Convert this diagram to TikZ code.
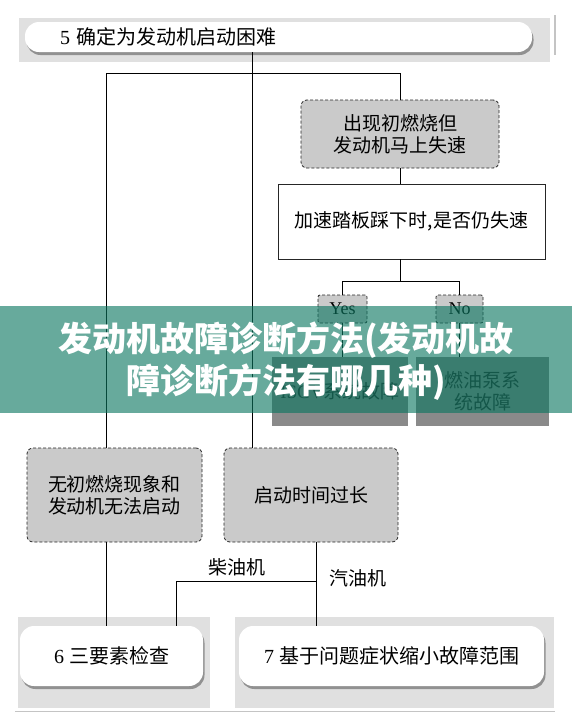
\documentclass[tikz,border=0pt]{standalone}
\usepackage{fontspec}
\setmainfont{Liberation Serif}
\newfontfamily\cjk{Noto Sans CJK SC}
\usetikzlibrary{shadows}
\definecolor{hdrbg}{HTML}{E0E0E0}
\definecolor{boxgray}{HTML}{CACACA}
\definecolor{darkbox}{HTML}{8A8A8A}
\definecolor{bannercol}{RGB}{10,118,96}
\definecolor{edgegray}{HTML}{C4C4C4}
\begin{document}
\begin{tikzpicture}[x=1pt,y=-1pt,
  every node/.style={inner sep=0pt, outer sep=0pt},
  conn/.style={draw=black, line width=0.8pt},
  hdrback/.style={fill=hdrbg, draw=none, rectangle},
  pill/.style={fill=white, rounded corners=14pt,
    drop shadow={shadow xshift=1.5pt, shadow yshift=-3pt, fill=black, opacity=0.35},
    font=\fontsize{20}{22}\selectfont},
  dbox/.style={draw=black!85, fill=boxgray, dash pattern=on 3pt off 2pt,
    line width=0.8pt, rounded corners=6pt, align=center,
    font=\fontsize{19}{22}\selectfont\cjk},
  sbox/.style={draw=black!85, fill=white, line width=0.8pt, align=center,
    font=\fontsize{19}{22}\selectfont\cjk},
  ynbox/.style={draw=black!85, fill=boxgray, dash pattern=on 3pt off 2pt,
    line width=0.8pt, rounded corners=2pt, font=\fontsize{18}{20}\selectfont},
  darkbox/.style={fill=darkbox, draw=none, align=center, text=black!85,
    font=\fontsize{19}{22}\selectfont\cjk},
  lbl/.style={font=\fontsize{19}{22}\selectfont\cjk},
  bannertext/.style={text=white, align=center,
    font=\fontsize{34}{42}\selectfont\cjk\bfseries}
]
\useasboundingbox (0,0) rectangle (572,721);
\fill[white] (0,0) rectangle (572,721);

% header 5
\node[hdrback, minimum width=531pt, minimum height=44pt] (hdr5bg) at (284.5,40) {};
\node[pill, minimum height=30pt, text width=437pt, inner xsep=35pt, align=left] (hdr5) at (278.5,37)
  {5 {\cjk 确定为发动机启动困难}};
\draw[edgegray, line width=1.5pt] (555,15) -- (555,55);

% upper right branch
\node[dbox, minimum width=198pt, minimum height=68pt] (firstfire) at (400,134)
  {出现初燃烧但\\发动机马上失速};
\node[sbox, minimum width=267pt, minimum height=75pt] (pedal) at (411.5,221.5)
  {加速踏板踩下时,是否仍失速};
\node[ynbox, minimum width=49pt, minimum height=28pt] (yes) at (342.5,309) {Yes};
\node[ynbox, minimum width=47pt, minimum height=28pt] (no) at (459.5,309) {No};
\node[darkbox, minimum width=136pt, minimum height=69pt] (iscv) at (340,391.5)
  {\raisebox{-4pt}{{\rmfamily ISCV}系统故障}};
\node[darkbox, minimum width=133pt, minimum height=69pt] (fuel) at (482.5,391.5)
  {燃油泵系\\统故障};

% lower boxes
\node[dbox, minimum width=175pt, minimum height=94pt] (noinit) at (114.5,495)
  {无初燃烧现象和\\发动机无法启动};
\node[dbox, minimum width=174pt, minimum height=94pt] (startlong) at (311,495)
  {启动时间过长};

% headers 6 and 7
\node[hdrback, minimum width=192pt, minimum height=91pt] (hdr6bg) at (114,662.5) {};
\node[hdrback, minimum width=319pt, minimum height=91pt] (hdr7bg) at (394.5,662.5) {};
\node[pill, minimum width=183pt, minimum height=60pt] (six) at (111.5,656)
  {6 {\cjk 三要素检查}};
\node[pill, minimum width=305pt, minimum height=60pt] (seven) at (391.5,656)
  {7 {\cjk 基于问题症状缩小故障范围}};
\draw[edgegray, line width=1pt] (15,711) -- (555,711);

% junctions
\coordinate (j) at (252,73);
\coordinate (jl) at (106,73);
\coordinate (jr) at (400,73);
\coordinate (fk) at (400,281);
\coordinate (jd) at (316,581);
\coordinate (jdl) at (176,581);

% connectors
\draw[conn] (j |- hdr5.south) -- (j |- startlong.north);
\draw[conn] (jl |- noinit.north) -- (jl) -- (jr) -- (jr |- firstfire.north);
\draw[conn] (firstfire.south) -- (firstfire.south |- pedal.north);
\draw[conn] (fk |- pedal.south) -- (fk);
\draw[conn] (yes.north) -- (yes.north |- fk) -- (no.north |- fk) -- (no.north);
\draw[conn] (yes.south) -- (yes.south |- iscv.north);
\draw[conn] (no.south) -- (no.south |- fuel.north);
\draw[conn] (jl |- noinit.south) -- (jl |- six.north);
\draw[conn] (jd |- startlong.south) -- (jd |- seven.north);
\draw[conn] (jd) -- (jdl) -- (jdl |- six.north);
\node[lbl] (diesel) at (237,567) {柴油机};
\node[lbl] (petrol) at (358,578) {汽油机};

% overlay banner
\fill[bannercol, opacity=0.62] (0,306) rectangle (572,413);
\node[bannertext] (banner) at (286,361.5)
  {发动机故障诊断方法(发动机故\\障诊断方法有哪几种)};
\end{tikzpicture}
\end{document}
